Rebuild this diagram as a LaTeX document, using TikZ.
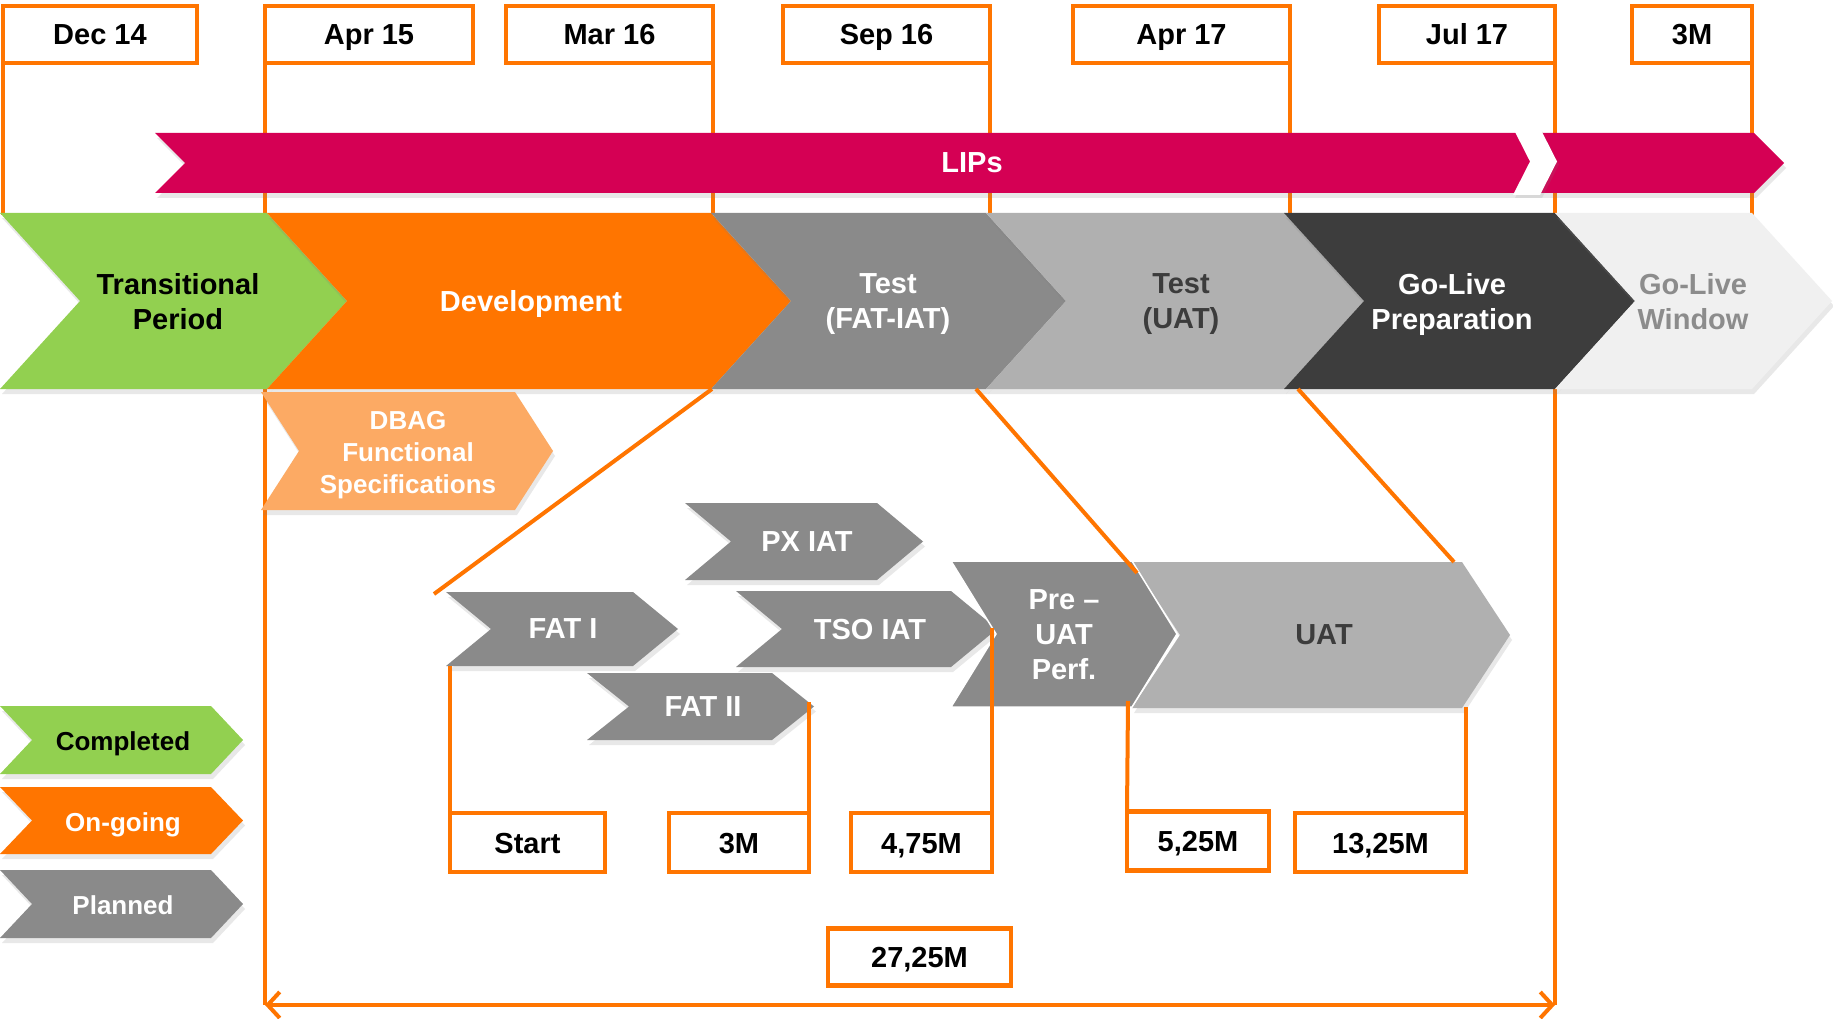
\documentclass[tikz,border=0pt]{standalone}
\usepackage{fontspec}
\setmainfont{Liberation Sans}
\usetikzlibrary{arrows.meta,shadows}
\definecolor{og}{RGB}{255,117,0}
\definecolor{mag}{RGB}{213,0,84}
\definecolor{grn}{RGB}{146,208,80}
\definecolor{lor}{RGB}{252,170,100}
\definecolor{gmid}{RGB}{138,138,138}
\definecolor{glt}{RGB}{176,176,176}
\definecolor{gdk}{RGB}{61,61,61}
\definecolor{gvl}{RGB}{240,240,240}
\definecolor{txtdk}{RGB}{60,60,60}
\definecolor{txtlt}{RGB}{140,140,140}
\newcommand{\mychev}[6]{\path[#6] (#1,#3) -- (#2,#3) -- ({#2+#5},{(#3+#4)/2}) -- (#2,#4) -- (#1,#4) -- ({#1+#5},{(#3+#4)/2}) -- cycle;}
\begin{document}
\begin{tikzpicture}[x=1pt,y=-1pt,
  datebox/.style={draw=og, line width=4.5pt, fill=white, minimum height=57pt, inner sep=0pt, outer sep=0pt, text height=21pt, text depth=0pt, font=\fontsize{29}{35}\selectfont\bfseries},
  msbox/.style={datebox, minimum height=59pt},
  lbl/.style={align=center, font=\fontsize{29}{35}\selectfont\bfseries, inner sep=0pt, text depth=0pt},
  lbls/.style={align=center, font=\fontsize{26}{32}\selectfont\bfseries, inner sep=0pt, text depth=0pt},
  conn/.style={draw=og, line width=4pt},
  shd/.style={drop shadow={opacity=0.18, shadow xshift=2pt, shadow yshift=-5pt}}]
\useasboundingbox[fill=white] (0,0) rectangle (1833,1019);

% date boxes
\node[datebox, minimum width=194pt] (d14) at (100,34.5) {Dec 14};
\node[datebox, minimum width=208pt] (a15) at (369,34.5) {Apr 15};
\node[datebox, minimum width=207pt] (m16) at (609.5,34.5) {Mar 16};
\node[datebox, minimum width=207pt] (s16) at (886.5,34.5) {Sep 16};
\node[datebox, minimum width=217pt] (a17) at (1181.5,34.5) {Apr 17};
\node[datebox, minimum width=176pt] (j17) at (1467,34.5) {Jul 17};
\node[datebox, minimum width=120pt] (w3m) at (1692,34.5) {3M};

\coordinate (rowtop) at (0,215);
\coordinate (bot) at (0,1005);

% vertical date lines (behind bars)
\draw[conn] (d14.south west) -- (d14.south west |- rowtop);
\draw[conn] (a15.south west) -- (a15.south west |- bot);
\draw[conn] (m16.south east) -- (m16.south east |- rowtop);
\draw[conn] (s16.south east) -- (s16.south east |- rowtop);
\draw[conn] (a17.south east) -- (a17.south east |- rowtop);
\draw[conn] (j17.south east) -- (j17.south east |- bot);
\draw[conn] (w3m.south east) -- (w3m.south east |- rowtop);

% bottom double arrow
\draw[conn, {Straight Barb[length=12pt,width=26pt]}-{Straight Barb[length=12pt,width=26pt]}] (a15.south west |- bot) -- (j17.south east |- bot);

% LIPs bar
\mychev{155}{1754}{133}{193}{30}{fill=mag, shd}
\mychev{1513}{1540}{128}{195}{17}{fill=white, drop shadow={opacity=0.15, shadow xshift=2pt, shadow yshift=-3pt}}
\node[lbl, text=white] (lips) at (972,163) {LIPs};

% main phase row
\mychev{0}{267}{213}{389}{80}{fill=grn, shd}
\mychev{267}{711}{213}{389}{80}{fill=og, shd}
\mychev{711}{986}{213}{389}{80}{fill=gmid, shd}
\mychev{986}{1284}{213}{389}{80}{fill=glt, shd}
\mychev{1284}{1555}{213}{389}{80}{fill=gdk, shd}
\mychev{1555}{1752}{213}{389}{80}{fill=gvl, shd}
\node[lbl, text=black] (ptrans) at (178,301) {Transitional\\Period};
\node[lbl, text=white] (pdev) at (531,301) {Development};
\node[lbl, text=white] (pfat) at (888,301) {Test\\(FAT-IAT)};
\node[lbl, text=txtdk] (puat) at (1181,301) {Test\\(UAT)};
\node[lbl, text=white] (pprep) at (1452,301) {Go-Live\\Preparation};
\node[lbl, text=txtlt] (pwin) at (1693,301) {Go-Live\\Window};

% DBAG
\mychev{261}{515}{392}{510}{38}{fill=lor, shd}
\node[lbls, text=white] (dbag) at (408,452) {DBAG\\Functional\\Specifications};

% test sub-phases
\mychev{685}{877}{503}{580}{46}{fill=gmid, shd}
\node[lbl, text=white] (px) at (807,542) {PX IAT};
\mychev{446}{633}{592}{666}{45}{fill=gmid, shd}
\node[lbl, text=white] (fat1) at (563,629) {FAT I};
\mychev{736}{951}{591}{667}{46}{fill=gmid, shd}
\node[lbl, text=white] (tso) at (870,629) {TSO IAT};
\mychev{587}{772}{673}{740}{42}{fill=gmid, shd}
\node[lbl, text=white] (fat2) at (703,707) {FAT II};
\mychev{1132}{1462}{562}{708}{48}{fill=glt, shd}
\node[lbl, text=txtdk] (uat) at (1324,635) {UAT};
\mychev{951}{1132}{561}{707}{45}{fill=gmid, draw=white, line width=1.5pt}
\node[lbl, text=white] (preuat) at (1064,635) {Pre --\\UAT\\Perf.};

% diagonal zoom lines
\coordinate (devBR) at (712,389);
\coordinate (fatTL) at (434,594);
\coordinate (fiBR) at (976,389);
\coordinate (uatTL) at (1137,573);
\coordinate (tuBR) at (1298,389);
\coordinate (uatTR) at (1454,562);
\draw[conn] (devBR) -- (fatTL);
\draw[conn] (fiBR) -- (uatTL);
\draw[conn] (tuBR) -- (uatTR);

% milestone boxes
\node[msbox, minimum width=155pt] (mstart) at (527.5,842.5) {Start};
\node[msbox, minimum width=140pt] (m3) at (739,842.5) {3M};
\node[msbox, minimum width=141pt] (m475) at (921.5,842.5) {4,75M};
\node[msbox, minimum width=142pt] (m525) at (1198,841) {5,25M};
\node[msbox, minimum width=171pt] (m1325) at (1380.5,842.5) {13,25M};
\node[datebox, minimum width=183pt] (m2725) at (919.5,957) {27,25M};

\coordinate (fatBL) at (450,666);
\coordinate (fat2tip) at (809,702);
\coordinate (tsotip) at (992,628);
\coordinate (preBR) at (1128,701);
\coordinate (uatBR) at (1466,707);
\draw[conn] (fatBL) -- (mstart.north west);
\draw[conn] (fat2tip) -- (m3.north east);
\draw[conn] (tsotip) -- (m475.north east);
\draw[conn] (preBR) -- (m525.north west);
\draw[conn] (uatBR) -- (m1325.north east);

% legend
\mychev{0}{211}{706}{774}{32}{fill=grn, shd}
\node[lbls, text=black] (lcomp) at (123,741) {Completed};
\mychev{0}{211}{787}{854}{32}{fill=og, shd}
\node[lbls, text=white] (lon) at (123,822) {On-going};
\mychev{0}{211}{870}{938}{32}{fill=gmid, shd}
\node[lbls, text=white] (lplan) at (123,905) {Planned};
\end{tikzpicture}
\end{document}
